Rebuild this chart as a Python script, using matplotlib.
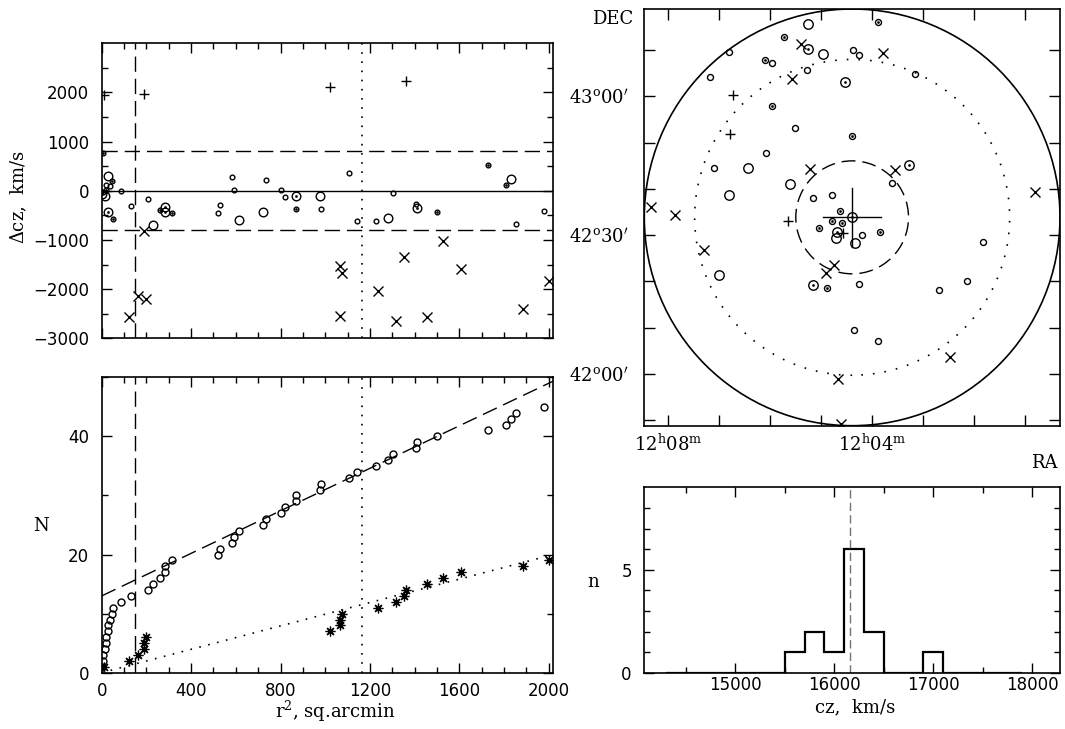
import numpy as np
import matplotlib
matplotlib.use("Agg")
import matplotlib.pyplot as plt
from matplotlib.patches import Ellipse

plt.rcParams['font.family'] = 'DejaVu Sans'
plt.rcParams['mathtext.fontset'] = 'dejavuserif'

# ---------------- data ----------------
# members: r^2 (sq.arcmin), velocity offset (km/s), symbol
mem_r2 = [0, 6, 7, 19, 15, 18, 27, 27, 37, 45, 52,
          86, 131, 205, 228, 261, 282, 284, 314,
          519, 530, 581, 592, 614, 721, 736, 800, 821, 868, 869,
          975, 981, 1106, 1143, 1225, 1279, 1304, 1404, 1409, 1501,
          1727, 1808, 1831, 1852, 1978]
mem_dcz = [-60, -30, 759, 20, -110, 108, 291, -430, 88, 190, -577,
           0, -305, -169, -705, -386, -330, -440, -454,
           -447, -285, 272, 20, -590, -441, 210, 13, -136, -115, -366,
           -102, -366, 359, -610, -610, -556, -54, -264, -340, -441,
           529, 122, 244, -677, -421]
mem_sym = ['OS', 'os', 'os', 'os', 'O', 'o', 'O', 'OS', 'o', 'os', 'os',
           'o', 'o', 'o', 'O', 'os', 'OS', 'OS', 'os',
           'o', 'o', 'o', 'o', 'O', 'O', 'o', 'o', 'o', 'OS', 'os',
           'O', 'o', 'o', 'o', 'o', 'O', 'o', 'o', 'OS', 'os',
           'os', 'os', 'O', 'o', 'o']

# non-members
non_r2 = [11, 190, 1019, 1362,
          121, 163, 198, 190, 1066, 1074, 1066, 1235, 1315, 1352, 1453,
          1526, 1606, 1883, 1999]
non_dcz = [1953, 1966, 2115, 2224,
           -2576, -2149, -2203, -814, -1539, -1675, -2556, -2048, -2644,
           -1356, -2576, -1017, -1593, -2400, -1831]
non_sym = ['+', '+', '+', '+'] + ['x'] * 15

# linear fits in the N(r^2) panel
fit_mem = (13.0, 0.0180)   # intercept, slope
fit_non = (0.0, 0.0099)

# sky map: RA in minutes after 12h, DEC in degrees
gal_ra = [3.881, 5.254, 5.720, 5.392, 5.260, 4.958, 4.374, 4.256, 3.783, 6.817,
          6.101, 5.970, 5.287, 7.185, 5.576, 4.538, 3.172, 6.725, 5.963, 5.510,
          6.791, 4.400, 6.075, 7.093, 6.436, 5.221, 3.546, 3.283, 5.608, 3.612,
          6.810, 5.168, 4.781, 0.801, 8.341, 7.861, 4.636, 4.394, 4.781, 4.584,
          5.648, 5.037, 4.689, 4.571, 4.709, 4.203, 3.855, 4.347, 1.832, 7.297,
          4.755, 4.899, 7.008, 5.162, 4.893, 4.262, 2.699, 2.147, 4.354, 3.894,
          2.475, 4.669, 4.604]
gal_dec = [43.266, 43.261, 43.213, 43.188, 43.170, 43.152, 43.167, 43.147, 43.155, 43.160,
           43.130, 43.120, 43.095, 43.070, 43.063, 43.053, 43.081, 43.005, 42.964, 42.885,
           42.864, 42.858, 42.795, 42.743, 42.742, 42.737, 42.734, 42.754, 42.685, 42.688,
           42.643, 42.632, 42.643, 42.654, 42.602, 42.572, 42.588, 42.564, 42.551, 42.544,
           42.552, 42.526, 42.510, 42.506, 42.490, 42.499, 42.513, 42.472, 42.474, 42.448,
           42.392, 42.365, 42.358, 42.320, 42.308, 42.324, 42.302, 42.335, 42.160, 42.119,
           42.063, 41.981, 41.821]
gal_sym = ['os', 'O', 'os', 'x', 'OS', 'O', 'o', 'o', 'x', 'o',
           'os', 'o', 'o', 'o', 'x', 'OS', 'o', '+', 'os', 'o',
           '+', 'os', 'o', 'o', 'O', 'x', 'x', 'OS', 'O', 'o',
           'O', 'o', 'o', 'x', 'x', 'x', 'os', 'OS', 'os', 'os',
           '+', 'os', 'OS', '+', 'O', 'o', 'os', 'O', 'o', 'x',
           'x', 'x', 'O', 'OS', 'os', 'o', 'o', 'o', 'o', 'o',
           'x', 'x', 'x']

centre_ra, centre_dec = 4.394, 42.564
cross_arm = 6.3            # arcmin
r_field, r_mid, r_core = 45.0, 34.1, 12.2   # arcmin

# velocity histogram
hist_edges = [14300, 14500, 14700, 14900, 15100, 15300, 15500, 15700, 15900,
              16100, 16300, 16500, 16700, 16900, 17100, 17300, 17500, 17700, 17900]
hist_counts = [0, 0, 0, 0, 0, 0, 1, 2, 1, 6, 2, 0, 0, 1, 0, 0, 0, 0]
cz_mean = 16160

# ---------------- helpers ----------------
W, H = 1065, 729
SERIF = 'DejaVu Serif'


def box(l, t, r, b):
    return [l / W, 1 - b / H, (r - l) / W, (b - t) / H]


def marks(ax, x, y, sym, small, big, cross):
    x = np.asarray(x, float)
    y = np.asarray(y, float)
    sym = np.asarray(sym)
    for k in ['o', 'O', 'os', 'OS']:
        sel = sym == k
        ms = big if k[0] == 'O' else small
        ax.plot(x[sel], y[sel], ls='none', marker='o', ms=ms, mfc='none', mec='k', mew=1.0)
        if k in ('os', 'OS'):
            ax.plot(x[sel], y[sel], ls='none', marker='o', ms=1.5, mfc='k', mec='k', mew=0.4)
    sel = sym == 'x'
    ax.plot(x[sel], y[sel], ls='none', marker='x', ms=cross, mec='k', mew=1.0)
    sel = sym == '+'
    ax.plot(x[sel], y[sel], ls='none', marker='+', ms=cross, mec='k', mew=1.0)


def style(ax, maj=7, mnr=4.5):
    ax.tick_params(which='both', direction='in', top=True, right=True, width=1)
    ax.tick_params(which='major', length=maj, labelsize=12)
    ax.tick_params(which='minor', length=mnr)
    for s in ax.spines.values():
        s.set_linewidth(1.2)


DASH = (0, (11, 5))
DOT = (0, (1, 4.5))

fig = plt.figure(figsize=(W / 100, H / 100), dpi=100)

# ---------------- top left: velocity offset vs r^2 ----------------
ax1 = fig.add_axes(box(101.7, 43.3, 553.3, 338.3))
marks(ax1, mem_r2 + non_r2, mem_dcz + non_dcz, mem_sym + non_sym, 3.4, 6.2, 6.5)
ax1.axhline(0, color='k', lw=1)
ax1.axhline(800, color='k', lw=1, ls=DASH)
ax1.axhline(-800, color='k', lw=1, ls=DASH)
ax1.axvline(r_core ** 2, color='k', lw=1, ls=DASH)
ax1.axvline(r_mid ** 2, color='k', lw=1.2, ls=DOT)
ax1.set_xlim(0, 2020)
ax1.set_ylim(-3000, 3000)
ax1.set_xticks(np.arange(0, 2001, 400))
ax1.set_xticks(np.arange(100, 2001, 100), minor=True)
ax1.set_yticks(np.arange(-3000, 2001, 1000))
ax1.set_yticks(np.arange(-2500, 3000, 1000), minor=True)
style(ax1)
ax1.tick_params(labelbottom=False, pad=9)
fig.text(19 / W, 1 - 197 / H, r'$\Delta$cz,  km/s', rotation=90, ha='center', va='center',
         fontsize=13, family=SERIF)

# ---------------- bottom left: cumulative counts ----------------
ax2 = fig.add_axes(box(101.7, 377.3, 553.3, 672.7))
m_sorted = np.sort(mem_r2)
n_sorted = np.sort(non_r2)
ax2.plot(m_sorted, np.arange(1, len(m_sorted) + 1), ls='none', marker='o', ms=5,
         mfc='none', mec='k', mew=1.0)
ax2.plot(n_sorted, np.arange(1, len(n_sorted) + 1), ls='none', marker=(8, 2, 0), ms=7,
         mec='k', mew=0.9)
xx = np.array([0, 2020])
ax2.plot(xx, fit_mem[0] + fit_mem[1] * xx, color='k', lw=1, ls=DASH)
ax2.plot(xx, fit_non[0] + fit_non[1] * xx, color='k', lw=1.2, ls=DOT)
ax2.axvline(r_core ** 2, color='k', lw=1, ls=DASH)
ax2.axvline(r_mid ** 2, color='k', lw=1.2, ls=DOT)
ax2.set_xlim(0, 2020)
ax2.set_ylim(0, 50)
ax2.set_xticks(np.arange(0, 2001, 400))
ax2.set_xticks(np.arange(100, 2001, 100), minor=True)
ax2.set_yticks([0, 20, 40])
ax2.set_yticks([10, 30, 50], minor=True)
style(ax2)
ax2.tick_params(axis='y', pad=9)
ax2.tick_params(axis='x', pad=7)
fig.text(41 / W, 1 - 526 / H, 'N', ha='center', va='center', fontsize=13, family=SERIF)
fig.text(335 / W, 1 - 711 / H, r'r$^{2}$, sq.arcmin', ha='center', va='center',
         fontsize=13, family=SERIF)

# ---------------- top right: sky map ----------------
ax3 = fig.add_axes(box(644.3, 9, 1060, 425.7))
cosd = np.cos(np.radians(centre_dec))
for rad, ls, lw in [(r_field, '-', 1.2), (r_mid, (0, (1, 6)), 1.2), (r_core, (0, (10, 5)), 1.0)]:
    ax3.add_patch(Ellipse((centre_ra, centre_dec), 2 * rad / (15 * cosd), 2 * rad / 60,
                          fill=False, ec='k', lw=lw, ls=ls))
arm_ra = cross_arm / (15 * cosd)
arm_dec = cross_arm / 60
ax3.plot([centre_ra - arm_ra, centre_ra + arm_ra], [centre_dec, centre_dec], color='k', lw=1)
ax3.plot([centre_ra, centre_ra], [centre_dec - arm_dec, centre_dec + arm_dec], color='k', lw=1)
marks(ax3, gal_ra, gal_dec, gal_sym, 4.3, 6.8, 7.5)
ra_half = r_field / (15 * cosd)
ax3.set_xlim(centre_ra + ra_half, centre_ra - ra_half)
ax3.set_ylim(centre_dec - r_field / 60, centre_dec + r_field / 60)
ax3.set_xticks([8, 4])
ax3.set_xticklabels([r'12$^{\rm h}$08$^{\rm m}$', r'12$^{\rm h}$04$^{\rm m}$'])
ax3.set_xticks([1, 2, 3, 5, 6, 7], minor=True)
ax3.set_yticks([42.0, 42.5, 43.0])
ax3.set_yticklabels([r"42$^{\rm o}$00$'$", r"42$^{\rm o}$30$'$", r"43$^{\rm o}$00$'$"])
ax3.set_yticks([41 + 50 / 60, 42 + 10 / 60, 42 + 20 / 60, 42 + 40 / 60, 42 + 50 / 60,
                43 + 10 / 60], minor=True)
style(ax3, 8, 8)
ax3.tick_params(labelsize=13, labelfontfamily=SERIF)
ax3.tick_params(axis='y', pad=11)
ax3.tick_params(axis='x', pad=6)
fig.text(613 / W, 1 - 19 / H, 'DEC', ha='center', va='center', fontsize=13, family=SERIF)
fig.text(1044 / W, 1 - 463 / H, 'RA', ha='center', va='center', fontsize=13, family=SERIF)

# ---------------- bottom right: velocity histogram ----------------
ax4 = fig.add_axes(box(644.3, 487.3, 1060, 672.7))
ax4.stairs(hist_counts, hist_edges, color='k', lw=1.6)
ax4.axvline(cz_mean, color='0.45', lw=1, ls=(0, (6, 3)))
ax4.set_xlim(14080, 18280)
ax4.set_ylim(0, 9)
ax4.set_xticks([15000, 16000, 17000, 18000])
ax4.set_xticks([14500, 15500, 16500, 17500], minor=True)
ax4.set_yticks([0, 5])
ax4.set_yticks([1, 2, 3, 4, 6, 7, 8], minor=True)
style(ax4)
ax4.tick_params(axis='x', pad=2.5)
ax4.tick_params(axis='y', pad=9)
fig.text(593 / W, 1 - 582 / H, 'n', ha='center', va='center', fontsize=13, family=SERIF)
fig.text(855 / W, 1 - 707 / H, 'cz,  km/s', ha='center', va='center', fontsize=13,
         family=SERIF)

fig.savefig('out.png', dpi=100)
